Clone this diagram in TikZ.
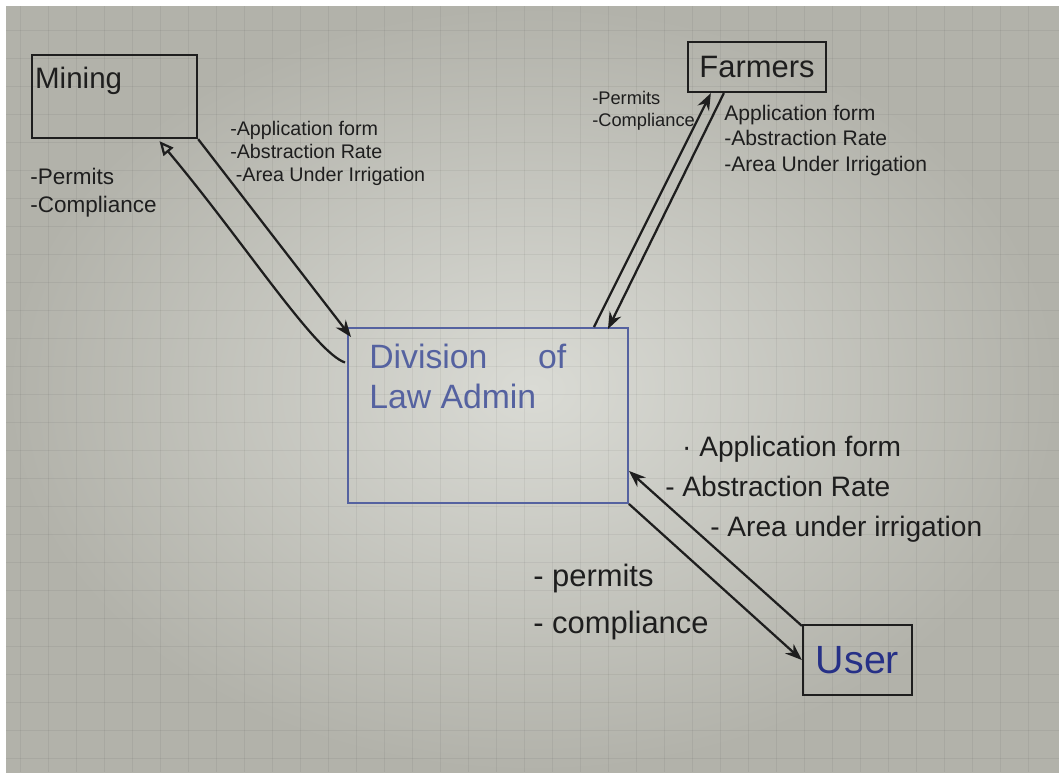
\documentclass[tikz,border=0pt]{standalone}
\usepackage{fontspec}
\setmainfont{Liberation Sans}
\usetikzlibrary{arrows.meta,calc,positioning}

\definecolor{paper}{RGB}{218,219,213}
\definecolor{paperedge}{RGB}{178,178,170}
\definecolor{ink}{RGB}{30,30,30}
\definecolor{blueink}{RGB}{85,98,160}
\definecolor{darkblue}{RGB}{38,48,135}

\tikzset{
  box/.style={draw=ink, line width=1.6pt, inner sep=0pt},
  flow/.style={draw=ink, line width=1.6pt, -{Stealth[length=12pt,width=9pt]}},
  note/.style={anchor=north west, inner sep=0pt, align=left, text=ink},
  gridline/.style={draw=black, opacity=0.05, line width=0.5pt}
}

\begin{document}
\begin{tikzpicture}[x=0.025cm, y=-0.025cm]
    % sheet of squared paper
    \useasboundingbox (0,0) rectangle (1059,772);
    \fill[white] (0,0) rectangle (1059,772);
    \shade[inner color=paper, outer color=paperedge] (6,6) rectangle (1059,772);
    \foreach \gx in {20,48,...,1050}
        \draw[gridline] (\gx,6) -- (\gx,772);
    \foreach \gy in {30,58,...,770}
        \draw[gridline] (6,\gy) -- (1059,\gy);

    % the four boxes
    \node[box, minimum width=4.125cm, minimum height=2.075cm] (mining) at (114.5,96.5) {};
        \node[note, font=\fontsize{21}{24}\selectfont] (miningname) at ($(mining.north west)+(4,13)$) {Mining};
    \node[box, minimum width=3.45cm, minimum height=1.25cm,
          font=\fontsize{22}{24}\selectfont, text=ink] (farmers) at (757,67) {Farmers};
    \node[box, draw=blueink, line width=1.3pt, minimum width=7cm, minimum height=4.375cm] (div) at (488,415.5) {};
        \node[note, text=blueink, font=\fontsize{24}{28.5}\selectfont] (divname)
            at ($(div.north west)+(22,17)$) {Division\hspace{36pt}of\\Law Admin};
    \node[box, minimum width=2.725cm, minimum height=1.75cm,
          font=\fontsize{28}{30}\selectfont, text=darkblue] (user) at (857.5,660) {User};

    % Mining <-> Division
    \draw[flow] (mining.south east) -- ($(div.north west)+(4,10)$);
    \draw[draw=ink, line width=1.6pt, -{Triangle[open,length=10pt,width=9pt]}]
        ($(div.west)+(-2,-53)$) .. controls +(-30,-10) and +(84,100) .. ($(mining.south)+(45,2)$);
        \node[note, font=\fontsize{16}{20}\selectfont] (miningback) at (30,168) {-Permits\\-Compliance};
        \node[note, font=\fontsize{14}{16.5}\selectfont] (miningsent) at (230,121)
            {-Application form\\-Abstraction Rate\\\hspace*{4pt}-Area Under Irrigation};

    % Farmers <-> Division
    \draw[flow] ($(div.north east)+(-35,0)$) -- ($(farmers.south west)+(24,0)$);
    \draw[flow] ($(farmers.south west)+(37,0)$) -- ($(div.north east)+(-21,2)$);
        \node[note, font=\fontsize{13}{15.5}\selectfont] (farmersback) at (592,91) {-Permits\\-Compliance};
        \node[note, font=\fontsize{15}{18}\selectfont] (farmerssent) at (724,105)
            {Application form\\-Abstraction Rate\\-Area Under Irrigation};

    % User <-> Division
    \draw[flow] (div.south east) -- (user.west);
    \draw[flow] ($(user.north west)+(0,2)$) -- ($(div.south east)+(0,-33)$);
        \node[note, font=\fontsize{20}{28.5}\selectfont] (usersent) at (665,436)
            {\hspace*{12pt}· Application form\\- Abstraction Rate\\\hspace*{32pt}- Area under irrigation};
        \node[note, font=\fontsize{22}{33}\selectfont] (userback) at (533,564) {- permits\\- compliance};
\end{tikzpicture}
\end{document}
